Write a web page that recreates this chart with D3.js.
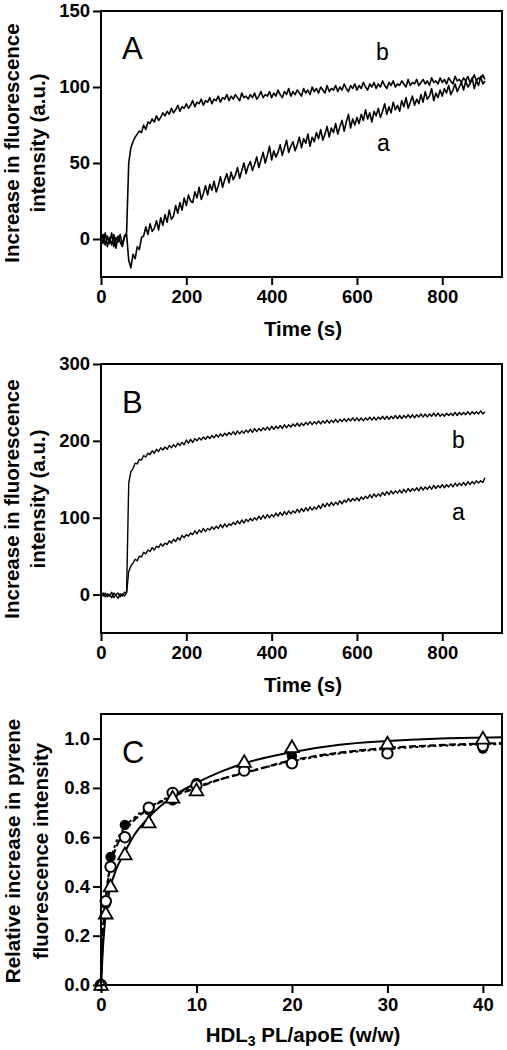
<!DOCTYPE html>
<html><head><meta charset="utf-8">
<script src="https://cdn.jsdelivr.net/npm/d3@7"></script>
<style>
body{margin:0;background:#fff}
svg{display:block}
text{font-family:"Liberation Sans",Arial,Helvetica,sans-serif;fill:#000}
</style></head>
<body><svg id="chart" width="507" height="1050"></svg>
<script>
// ---------- DATA ----------
const timeStep = 5; // seconds between samples, t = 0..900
const timeTicks = [0, 200, 400, 600, 800];
const yTicksA = [0, 50, 100, 150];
const yTicksB = [0, 100, 200, 300];
const yTicksC = [0, 0.2, 0.4, 0.6, 0.8, 1.0];
const xTicksC = [0, 10, 20, 30, 40];

// Panel A, trace a
const traceAa = [2,-3,4,-5,1,-4,3,-6,2,-2,-5,1,3,-14,-19,-10,-13,-5,-7,1,
 2,8,3,10,5,7,12,6,14,9,
 16,11,19,13,15,22,17,24,19,27,
 22,29,25,24,31,27,34,26,30,35,
 29,36,32,38,31,35,41,34,39,43,
 37,44,39,42,47,40,45,50,43,48,
 51,45,49,54,47,52,57,50,55,61,
 52,58,54,57,62,55,60,65,57,61,
 64,58,62,67,60,66,63,69,61,67,
 64,70,66,72,65,69,74,67,73,70,
 76,69,74,78,71,77,82,73,79,75,
 80,76,82,78,85,79,83,77,84,81,
 86,80,84,89,82,87,83,90,85,88,
 84,91,87,93,86,90,94,88,92,89,
 95,90,97,92,94,99,91,96,93,98,
 94,99,96,101,95,98,102,97,100,103,
 98,104,100,102,106,99,104,101,107,102,
 104];
// Panel A, trace b
const traceAb = [-1,3,-4,2,-3,4,-5,1,-2,3,-4,2,4,50,60,64,67,69,71,70,
 75,72,77,76,79,77,81,78,80,83,
 81,84,82,86,83,85,88,84,87,86,
 89,86,88,91,87,90,89,92,88,91,
 90,93,89,92,91,94,90,93,92,95,
 91,94,92,95,93,91,96,93,94,92,
 95,93,96,92,94,97,93,95,94,97,
 93,96,94,98,95,93,97,95,99,94,
 97,95,98,96,94,99,96,98,95,100,
 97,99,96,100,98,96,101,97,99,98,
 101,97,100,98,102,99,97,101,99,102,
 98,101,99,103,100,98,102,100,103,99,
 102,100,104,101,99,103,101,104,100,102,
 101,104,102,100,105,101,103,102,105,101,
 103,105,102,104,101,106,103,104,102,106,
 103,105,102,106,104,102,107,104,105,103,
 106,104,107,103,105,108,104,106,105,108,
 105];
// Panel B, trace a
const traceBa = [1,-2,2,-3,0,-4,2,-1,-5,1,-2,3,2,
 30,37,41,46,44,50,49,55,53,58,56,61,58,63,61,66,63,67,65,70,67,72,69,74,71,77,74,78,
 76,80,78,83,79,84,81,86,82,86,84,88,85,89,86,91,87,92,88,92,90,94,91,96,92,97,93,98,95,99,96,100,97,102,98,103,99,104,100,104,
 101,106,102,107,103,108,104,109,105,109,106,111,107,112,108,113,109,114,110,114,111,116,112,118,114,119,115,120,116,120,117,122,118,123,120,125,121,125,122,126,
 122,127,124,128,125,130,126,131,127,131,128,133,129,134,130,135,131,135,132,136,132,137,133,138,134,138,135,139,135,140,136,140,137,141,137,142,138,142,139,143,
 139,143,140,144,140,145,141,145,142,146,142,147,143,147,144,148,145,148,146,152];
// Panel B, trace b
const traceBb = [-1,2,-3,1,-2,3,-4,0,2,-3,1,-2,3,
 145,160,164,171,170,176,175,181,179,184,182,187,184,189,186,191,188,192,189,194,191,195,192,197,194,198,195,201,
 197,202,198,203,200,204,201,205,202,206,203,207,204,208,205,209,206,210,207,211,208,212,208,213,209,213,210,214,211,215,211,216,212,216,213,217,214,218,214,219,
 215,219,216,220,216,221,217,221,218,222,219,223,219,223,220,224,221,225,221,225,222,226,222,226,223,227,223,227,224,228,224,228,225,229,225,229,226,230,226,230,
 226,230,226,230,227,231,227,231,227,231,228,232,228,232,228,232,229,233,229,233,229,233,230,234,230,234,230,234,231,235,231,235,231,235,232,236,232,236,232,235,
 232,236,233,236,233,237,233,237,234,237,234,238,234,238,235,238,235,239,235,238];

// Panel C
const ratioC = [0, 0.5, 1, 2.5, 5, 7.5, 10, 15, 20, 30, 40];
const filledC = [0, 0.33, 0.52, 0.65, 0.71, 0.75, 0.82, 0.87, 0.93, 0.95, 0.96];
const openC   = [0, 0.34, 0.48, 0.60, 0.72, 0.78, 0.81, 0.87, 0.90, 0.94, 0.97];
const triC    = [0, 0.29, 0.40, 0.53, 0.66, 0.76, 0.79, 0.905, 0.965, 0.98, 1.0];
// fitted curves
const fitSolidX = [0, 0.2, 0.5, 1, 1.5, 2.5, 3.5, 5, 7.5, 10, 12.5, 15, 20, 25, 30, 35, 42];
const fitSolidY = [0, 0.15, 0.29, 0.40, 0.46, 0.54, 0.61, 0.68, 0.765, 0.82, 0.865, 0.90, 0.945, 0.975, 0.99, 1.0, 1.006];
const fitDashX  = [0, 0.2, 0.5, 1, 1.5, 2.5, 3.5, 5, 7.5, 10, 12.5, 15, 20, 25, 30, 35, 42];
const fitDash1Y = [0, 0.20, 0.34, 0.49, 0.55, 0.625, 0.67, 0.715, 0.765, 0.80, 0.835, 0.86, 0.912, 0.943, 0.962, 0.973, 0.982];
const fitDash2Y = [0, 0.22, 0.35, 0.50, 0.57, 0.64, 0.68, 0.72, 0.77, 0.805, 0.835, 0.862, 0.908, 0.94, 0.958, 0.97, 0.978];

// ---------- DRAW ----------
const svg = d3.select("#chart");
const FONT = '"Liberation Sans",Arial,Helvetica,sans-serif';
const TICK_FS = 18.5, TITLE_FS = 20.5;

function frameAxes(g, x, y, xt, yt, xfmt, yfmt) {
  const [x0, x1] = x.range(), [y0, y1] = y.range();
  const ya = g.append("g").attr("transform", `translate(${x0},0)`)
    .call(d3.axisLeft(y).tickValues(yt).tickSizeOuter(0).tickSize(8).tickPadding(3).tickFormat(yfmt));
  const xa = g.append("g").attr("transform", `translate(0,${y0})`)
    .call(d3.axisBottom(x).tickValues(xt).tickSizeOuter(0).tickSize(8).tickPadding(5).tickFormat(xfmt));
  [ya, xa].forEach(a => {
    a.select(".domain").remove();
    a.selectAll(".tick line").attr("stroke", "#000").attr("stroke-width", 2);
    a.selectAll(".tick text").attr("font-family", FONT).attr("font-size", TICK_FS).attr("font-weight", "bold").attr("fill", "#000");
  });
  g.append("rect").attr("x", x0).attr("y", y1).attr("width", x1 - x0).attr("height", y0 - y1)
    .attr("fill", "none").attr("stroke", "#000").attr("stroke-width", 2);
}

function yTitle(lines, cy, xs) {
  lines.forEach((t, i) => {
    svg.append("text").attr("transform", `translate(${xs[i]},${cy}) rotate(-90)`)
      .attr("text-anchor", "middle").attr("font-size", TITLE_FS).attr("font-weight", "bold").text(t);
  });
}

function timePanel(top, bottom, ydom, yticks, traces, sw, labels, letter, letterY, xTitleY) {
  const x = d3.scaleLinear().domain([0, 940]).range([101, 502]);
  const y = d3.scaleLinear().domain(ydom).range([bottom, top]);
  const g = svg.append("g");
  const line = d3.line().x((d, i) => x(i * timeStep)).y(d => y(d));
  traces.forEach(tr => {
    g.append("path").datum(tr).attr("d", line).attr("fill", "none")
      .attr("stroke", "#000").attr("stroke-width", sw).attr("stroke-linejoin", "round");
  });
  frameAxes(g, x, y, timeTicks, yticks, d3.format("d"), d3.format("d"));
  g.append("text").attr("x", 122).attr("y", letterY).attr("font-size", 31).text(letter);
  labels.forEach(l => g.append("text").attr("x", l.x).attr("y", l.y).attr("font-size", 23).text(l.t));
  g.append("text").attr("x", 303).attr("y", xTitleY).attr("text-anchor", "middle")
    .attr("font-size", TITLE_FS).attr("font-weight", "bold").text("Time (s)");
  return {x, y};
}

// Panel A
timePanel(11, 277, [-25, 150], yTicksA, [traceAa, traceAb], 1.6,
  [{t: "b", x: 376, y: 60}, {t: "a", x: 377, y: 151}], "A", 59, 336);
yTitle(["Increase in fluorescence", "intensity (a.u.)"], 143, [19, 45]);

// Panel B
timePanel(364, 633, [-50, 300], yTicksB, [traceBa, traceBb], 1.4,
  [{t: "b", x: 452, y: 448}, {t: "a", x: 452, y: 520}], "B", 413, 692);
yTitle(["Increase in fluorescence", "intensity (a.u.)"], 499, [19, 45]);

// Panel C
{
  const x = d3.scaleLinear().domain([0, 42]).range([101, 502]);
  const y = d3.scaleLinear().domain([0, 1.1]).range([985, 714]);
  const g = svg.append("g");
  const cl = (xs, ys) => d3.line().curve(d3.curveMonotoneX).x((d, i) => x(xs[i])).y((d, i) => y(ys[i]))(ys);
  g.append("path").attr("d", cl(fitSolidX, fitSolidY)).attr("fill", "none").attr("stroke", "#000").attr("stroke-width", 2);
  g.append("path").attr("d", cl(fitDashX, fitDash1Y)).attr("fill", "none").attr("stroke", "#000")
    .attr("stroke-width", 2.2).attr("stroke-dasharray", "7,3");
  g.append("path").attr("d", cl(fitDashX, fitDash2Y)).attr("fill", "none").attr("stroke", "#000")
    .attr("stroke-width", 2).attr("stroke-dasharray", "3,3");
  g.selectAll(".fc").data(ratioC).enter().append("circle")
    .attr("cx", d => x(d)).attr("cy", (d, i) => y(filledC[i])).attr("r", 5.2).attr("fill", "#000");
  g.selectAll(".oc").data(ratioC).enter().append("circle")
    .attr("cx", d => x(d)).attr("cy", (d, i) => y(openC[i])).attr("r", 5.2)
    .attr("fill", "#fff").attr("stroke", "#000").attr("stroke-width", 2);
  const tri = d3.symbol().type(d3.symbolTriangle).size(80);
  g.selectAll(".tr").data(ratioC).enter().append("path")
    .attr("d", tri).attr("transform", (d, i) => `translate(${x(d)},${y(triC[i]) + 1})`)
    .attr("fill", "#fff").attr("stroke", "#000").attr("stroke-width", 1.8);
  frameAxes(g, x, y, xTicksC, yTicksC, d3.format("d"), d3.format(".1f"));
  g.append("text").attr("x", 122).attr("y", 763).attr("font-size", 31).text("C");
  const xt = g.append("text").attr("x", 303).attr("y", 1042).attr("text-anchor", "middle")
    .attr("font-size", TITLE_FS).attr("font-weight", "bold");
  xt.append("tspan").text("HDL");
  xt.append("tspan").attr("font-size", 14).attr("dy", 4).text("3");
  xt.append("tspan").attr("dy", -4).text(" PL/apoE (w/w)");
  yTitle(["Relative increase in pyrene", "fluorescence intensity"], 851, [20, 48]);
}
</script></body></html>
